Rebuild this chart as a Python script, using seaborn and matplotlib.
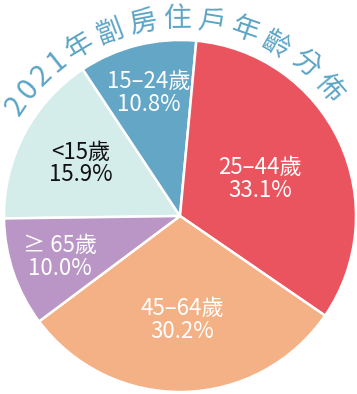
import numpy as np
import matplotlib
matplotlib.use("Agg")
import matplotlib.pyplot as plt
import seaborn as sns

# ---- data ----
categories = ["<15歲", "15–24歲", "25–44歲", "45–64歲", "≥ 65歲"]
shares = [15.9, 10.8, 33.1, 30.2, 10.0]
title = "2021年劏房住戶年齡分佈"

# ---- style ----
colors = ["#D4ECEA", "#63A6C6", "#E9545F", "#F4B186", "#B996C6"]
text_colors = ["#111111", "white", "white", "white", "white"]
label_r = [0.64, 0.72, 0.50, 0.59, 0.72]
title_color = "#5CA4C6"

sns.set_theme(style="white")
plt.rcParams["font.family"] = ["Noto Sans CJK TC", "DejaVu Sans"]

W, H = 357, 394
fig = plt.figure(figsize=(W / 100, H / 100), dpi=100)
cx, cy, R = 180, 216, 176
ax = fig.add_axes([(cx - R) / W, (H - cy - R) / H, 2 * R / W, 2 * R / H])

wedges, _ = ax.pie(shares, colors=colors, startangle=180.8, counterclock=False,
                   radius=1, wedgeprops=dict(edgecolor="white", linewidth=1.8))
ax.set_xlim(-1, 1)
ax.set_ylim(-1, 1)
ax.set_aspect("equal")
ax.axis("off")

for w, cat, val, tc, lr in zip(wedges, categories, shares, text_colors, label_r):
    th = np.deg2rad((w.theta1 + w.theta2) / 2)
    x, y = lr * np.cos(th), lr * np.sin(th)
    ax.text(x, y, f"{cat}\n{val:.1f}%", ha="center", va="center", fontsize=16,
            color=tc, linespacing=1.0)

# curved title along the arc
widths = [5.8 if ch.isdigit() else 10.0 for ch in title]
pos = [0.0]
for i in range(1, len(title)):
    pos.append(pos[-1] + (widths[i - 1] + widths[i]) / 2)
mid = 93.3
rt = 197 / R
for ch, p in zip(title, pos):
    a = mid + pos[-1] / 2 - p
    ar = np.deg2rad(a)
    ax.text(rt * np.cos(ar), rt * np.sin(ar), ch, rotation=a - 90,
            rotation_mode="anchor", ha="center", va="center",
            fontsize=21 if ch.isdigit() else 20, color=title_color, clip_on=False)

fig.savefig("out.png", dpi=100)
